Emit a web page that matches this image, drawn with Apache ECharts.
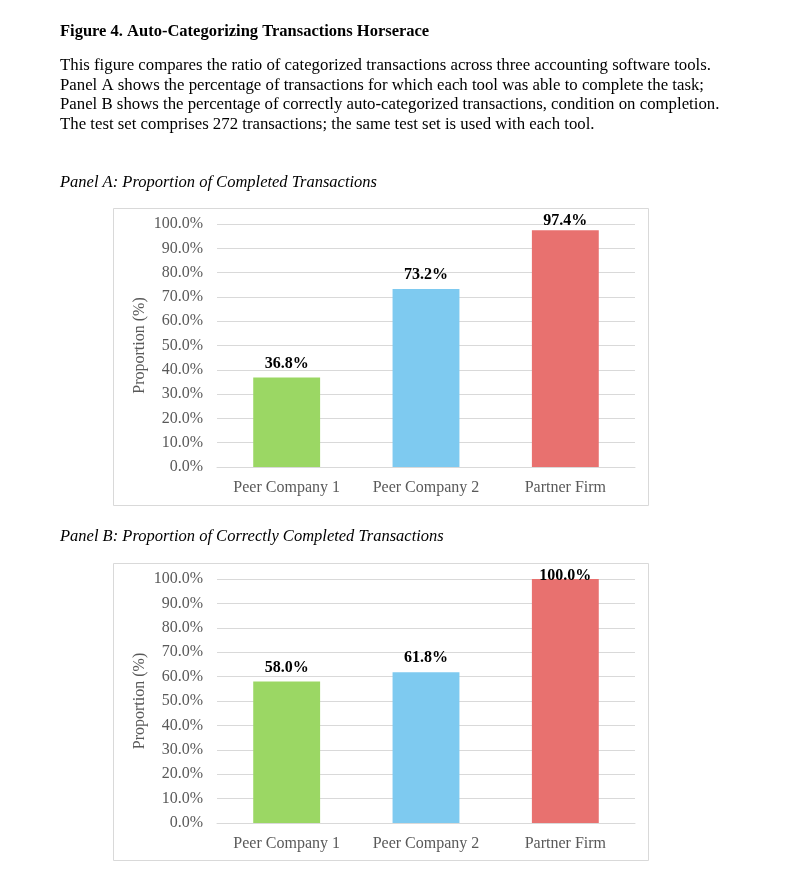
<!DOCTYPE html>
<html>
<head>
<meta charset="utf-8">
<script src="https://cdn.jsdelivr.net/npm/echarts@6/dist/echarts.min.js"></script>
<style>
html,body{margin:0;padding:0;background:#fff;}
#c{width:790px;height:891px;}
</style>
</head>
<body>
<div id="c"></div>
<script>
// ---- data ----
var categories = ['Peer Company 1', 'Peer Company 2', 'Partner Firm'];
var panelAValues = [36.8, 73.2, 97.4];
var panelBValues = [58.0, 61.8, 100.0];
var barColors = ['#9bd764', '#7ecaf0', '#e8716f'];
var yMin = 0, yMax = 100, yInterval = 10;
var figureTitle = 'Figure 4. Auto-Categorizing Transactions Horserace';
var paragraphLines = [
  'This figure compares the ratio of categorized transactions across three accounting software tools.',
  'Panel A shows the percentage of transactions for which each tool was able to complete the task;',
  'Panel B shows the percentage of correctly auto-categorized transactions, condition on completion.',
  'The test set comprises 272 transactions; the same test set is used with each tool.'
];
var panelATitle = 'Panel A: Proportion of Completed Transactions';
var panelBTitle = 'Panel B: Proportion of Correctly Completed Transactions';
var yAxisName = 'Proportion (%)';

// ---- layout ----
var FONT = "'Liberation Serif','Times New Roman',serif";
var W = 790, H = 891;
var panels = [
  {values: panelAValues, box: {x: 113, y: 208, w: 535, h: 297}, gridTop: 224, gridBottom: 467},
  {values: panelBValues, box: {x: 113, y: 563, w: 535, h: 297}, gridTop: 579, gridBottom: 823}
];
var gridLeft = 217, gridRight = 635;

var grids = [], xAxes = [], yAxes = [], series = [], graphics = [];
panels.forEach(function (p, i) {
  grids.push({left: gridLeft, right: W - gridRight, top: p.gridTop, bottom: H - p.gridBottom, containLabel: false});
  xAxes.push({
    type: 'category', gridIndex: i, data: categories,
    axisLine: {show: true, lineStyle: {color: '#d9d9d9', width: 1}},
    axisTick: {show: false},
    axisLabel: {color: '#595959', fontFamily: FONT, fontSize: 16, margin: 13}
  });
  yAxes.push({
    type: 'value', gridIndex: i, min: yMin, max: yMax, interval: yInterval,
    name: yAxisName, nameLocation: 'middle', nameRotate: 90, nameGap: 69,
    nameMoveOverlap: false,
    nameTextStyle: {color: '#595959', fontFamily: FONT, fontSize: 16},
    axisLine: {show: false}, axisTick: {show: false},
    axisLabel: {color: '#595959', fontFamily: FONT, fontSize: 16, margin: 14,
      formatter: function (v) { return v.toFixed(1) + '%'; }},
    splitLine: {lineStyle: {color: '#d9d9d9', width: 1}}
  });
  var pxPer = (p.gridBottom - p.gridTop) / (yMax - yMin);
  var labelH = 17, defDist = 6, minTop = 4;
  series.push({
    type: 'bar', xAxisIndex: i, yAxisIndex: i, barWidth: '48%',
    data: p.values.map(function (v, k) {
      var barTop = p.gridTop + (yMax - v) * pxPer;
      var d = defDist;
      if (barTop - d - labelH < p.box.y + minTop) d = barTop - labelH - p.box.y - minTop;
      return {value: v, itemStyle: {color: barColors[k]}, label: {distance: d}};
    }),
    label: {show: true, position: 'top', color: '#000', fontFamily: FONT, fontSize: 16, fontWeight: 'bold',
      formatter: function (o) { return o.value.toFixed(1) + '%'; }},
    silent: true, animation: false
  });
  graphics.push({type: 'rect', shape: {x: p.box.x + 0.5, y: p.box.y + 0.5, width: p.box.w, height: p.box.h},
    style: {fill: 'none', stroke: '#d9d9d9', lineWidth: 1}, z: -10, silent: true});
});

var titles = [
  {text: figureTitle, left: 60, top: 22, textStyle: {fontFamily: FONT, fontSize: 16.5, fontWeight: 'bold', color: '#000', lineHeight: 20}},
  {text: paragraphLines.join('\n'), left: 60, top: 56, textStyle: {fontFamily: FONT, fontSize: 16.8, fontWeight: 'normal', color: '#000', lineHeight: 19.6}},
  {text: panelATitle, left: 60, top: 173, textStyle: {fontFamily: FONT, fontSize: 16.5, fontWeight: 'normal', fontStyle: 'italic', color: '#000', lineHeight: 20}},
  {text: panelBTitle, left: 60, top: 527, textStyle: {fontFamily: FONT, fontSize: 16.5, fontWeight: 'normal', fontStyle: 'italic', color: '#000', lineHeight: 20}}
];
titles.forEach(function (t) { t.padding = 0; });

var chart = echarts.init(document.getElementById('c'), null, {renderer: 'canvas'});
chart.setOption({
  backgroundColor: '#fff',
  animation: false,
  title: titles,
  grid: grids,
  xAxis: xAxes,
  yAxis: yAxes,
  series: series,
  graphic: graphics
});
</script>
</body>
</html>
